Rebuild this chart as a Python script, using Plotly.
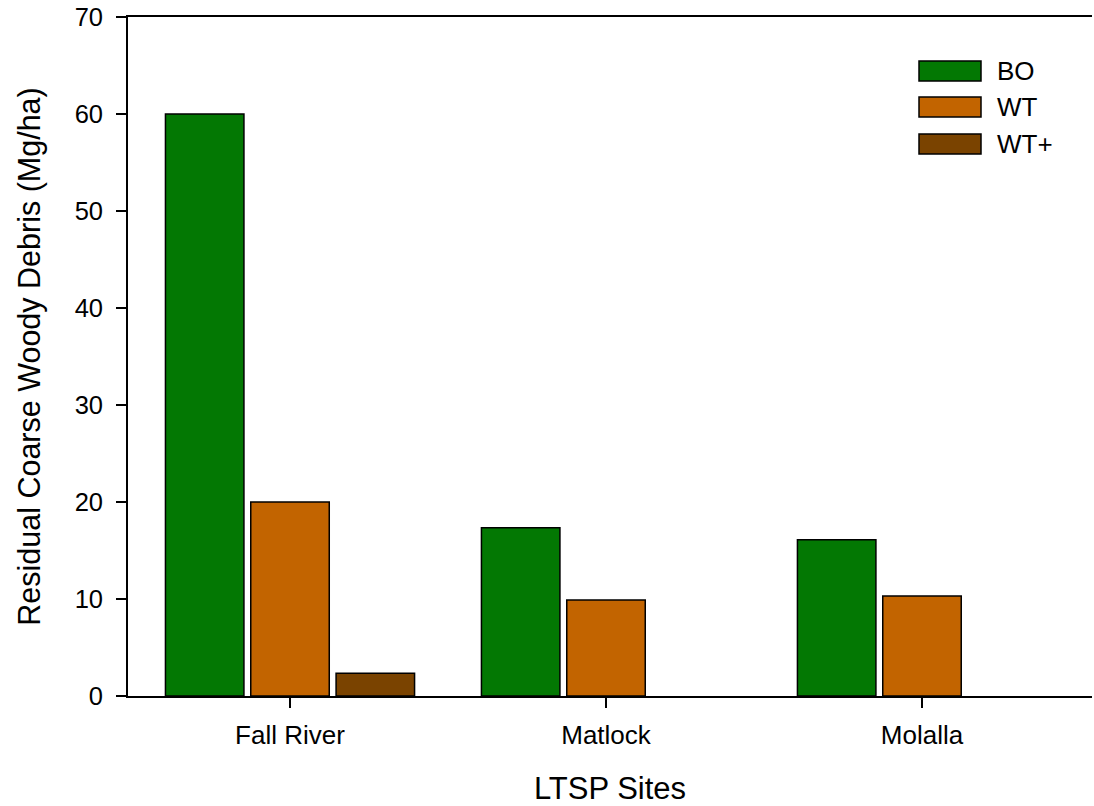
import plotly.graph_objects as go

sites = ["Fall River", "Matlock", "Molalla"]
series_names = ["BO", "WT", "WT+"]
bo_values = [60.0, 17.35, 16.1]
wt_values = [20.0, 9.9, 10.3]
wtplus_values = [2.35, None, None]
colors = ["#037803", "#C26400", "#7A4300"]

y_ticks = [0, 10, 20, 30, 40, 50, 60, 70]

FONT = "Liberation Sans, Arial, sans-serif"

FIG_W, FIG_H = 1094, 806
L, T, W, H = 128, 17, 964, 679

fig = go.Figure()
for name, vals, col in zip(series_names, [bo_values, wt_values, wtplus_values], colors):
    fig.add_trace(go.Bar(
        x=sites, y=vals, name=name,
        marker=dict(color=col, line=dict(color="black", width=1.5)),
        showlegend=False,
    ))

# custom legend (wide swatches like the original); positions in image pixels
def px(x):
    return (x - L) / W
def py(y):
    return (T + H - y) / H

legend_y = [71, 107, 144]
for name, col, cy in zip(series_names, colors, legend_y):
    fig.add_shape(type="rect", xref="paper", yref="paper",
                  x0=px(919), x1=px(981), y0=py(cy + 10), y1=py(cy - 10),
                  fillcolor=col, line=dict(color="black", width=1.5))
    fig.add_annotation(xref="paper", yref="paper", x=px(995), y=py(cy),
                       text=name, showarrow=False, xanchor="left", yanchor="middle",
                       font=dict(family=FONT, size=26, color="black"))

fig.update_layout(
    width=FIG_W, height=FIG_H,
    margin=dict(l=L, r=FIG_W - L - W, t=T, b=FIG_H - T - H, autoexpand=False),
    paper_bgcolor="white", plot_bgcolor="white",
    barmode="group", bargap=0.19, bargroupgap=0.08,
    font=dict(family=FONT, color="black"),
)
fig.update_xaxes(
    range=[-0.5127, 2.538],
    showline=True, linecolor="black", linewidth=1.8, mirror=True,
    ticks="outside", ticklen=10, tickwidth=1.5, tickcolor="black",
    tickfont=dict(family=FONT, size=26, color="black"), ticklabelstandoff=5,
    showgrid=False, zeroline=False, automargin=False,
    title=dict(text="LTSP Sites", font=dict(family=FONT, size=31, color="black"), standoff=28),
)
fig.update_yaxes(
    range=[0, 70], tickvals=y_ticks, ticktext=[str(v) for v in y_ticks],
    showline=True, linecolor="black", linewidth=1.8, mirror=False,
    ticks="outside", ticklen=10, tickwidth=1.5, tickcolor="black",
    tickfont=dict(family=FONT, size=25.5, color="black"), ticklabelstandoff=8,
    ticklabeloverflow="allow",
    showgrid=False, zeroline=False, automargin=False,
    title=dict(text="Residual Coarse Woody Debris (Mg/ha)", font=dict(family=FONT, size=30.5, color="black"), standoff=25),
)

fig.write_html("out.html",
               config={"displayModeBar": False},
               post_script="document.body.style.margin='0px';document.body.style.overflow='hidden';")
